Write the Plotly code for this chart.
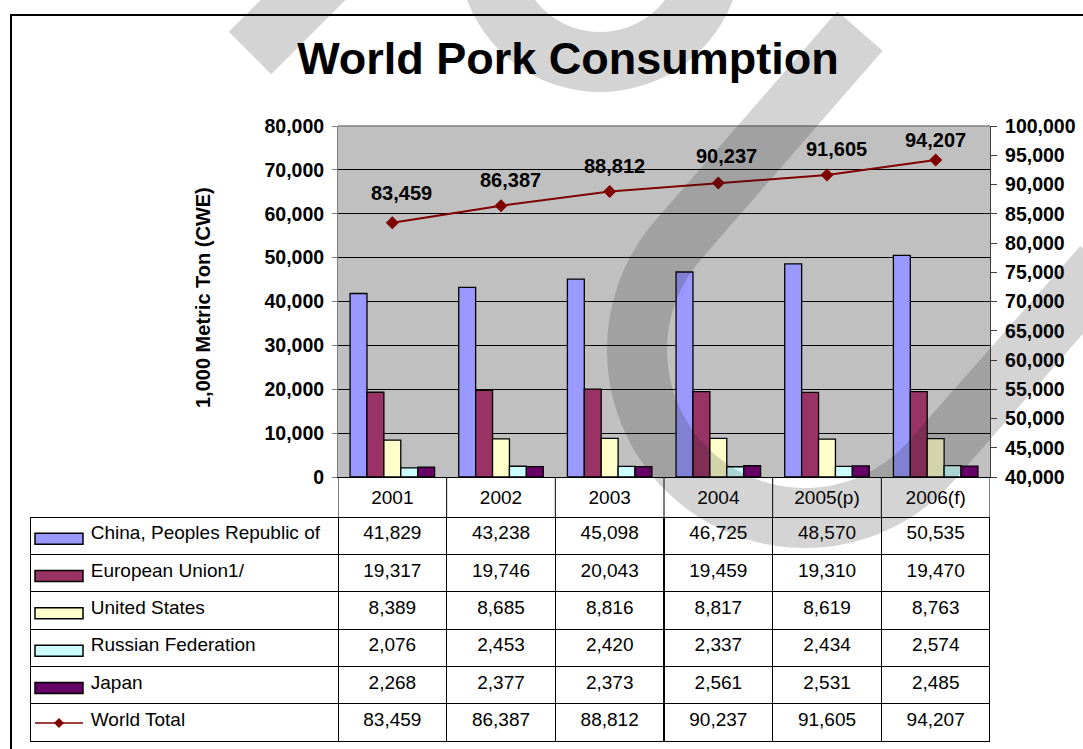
import math
import plotly.graph_objects as go

# ---- data -----------------------------------------------------------------
years = ["2001", "2002", "2003", "2004", "2005(p)", "2006(f)"]
china = [41829, 43238, 45098, 46725, 48570, 50535]
eu = [19317, 19746, 20043, 19459, 19310, 19470]
us = [8389, 8685, 8816, 8817, 8619, 8763]
russia = [2076, 2453, 2420, 2337, 2434, 2574]
japan = [2268, 2377, 2373, 2561, 2531, 2485]
world = [83459, 86387, 88812, 90237, 91605, 94207]

series_names = ["China, Peoples Republic of", "European Union1/", "United States",
                "Russian Federation", "Japan"]
world_name = "World Total"
left_ticks = [0, 10000, 20000, 30000, 40000, 50000, 60000, 70000, 80000]
right_ticks = [40000, 45000, 50000, 55000, 60000, 65000, 70000, 75000, 80000,
               85000, 90000, 95000, 100000]

# ---- styles ---------------------------------------------------------------
bar_colors = ["#9999FF", "#993366", "#FFFFCC", "#CCFFFF", "#660066"]
line_color = "#800000"
FONT = "Liberation Sans, Arial, sans-serif"
label_dx = [9, 9, 5, 8, 9, 0]
label_dy = [30, 26, 25, 27, 26, 20]

W, H = 1083, 749


def px(x):
    return x / W


def py(y):
    return 1 - y / H


fig = go.Figure()

for name, vals, col in zip(series_names, [china, eu, us, russia, japan], bar_colors):
    fig.add_trace(go.Bar(
        x=years, y=vals, name=name, yaxis="y",
        marker=dict(color=col, line=dict(color="black", width=1.3)),
        showlegend=False,
    ))

fig.add_trace(go.Scatter(
    x=years, y=world, name=world_name, yaxis="y2", mode="lines+markers",
    line=dict(color=line_color, width=2),
    marker=dict(symbol="diamond", size=10, color=line_color),
    showlegend=False,
))

# ---- data table under the chart --------------------------------------------
indent = "\u2003\u2003\u2002\u00a0"
all_series = [china, eu, us, russia, japan, world]
row_labels = [indent + n for n in series_names + [world_name]]
header_vals = [row_labels[0]] + [f"{v:,}" for v in china]
cell_cols = [row_labels[1:]] + [[f"{s[j]:,}" for s in all_series[1:]] for j in range(len(years))]

table_top, table_bot = 517, 741
row_h = (table_bot - table_top) / 6
col_w = [308] + [652 / 6] * 6
aligns = ["left"] + ["center"] * 6
clear = "rgba(0,0,0,0)"
fig.add_trace(go.Table(
    domain=dict(x=[px(30), px(990)], y=[py(table_bot + 1), py(table_top)]),
    columnwidth=col_w,
    header=dict(values=header_vals, height=row_h, align=aligns,
                fill=dict(color=clear), line=dict(color="black", width=1),
                font=dict(family=FONT, size=19, color="black")),
    cells=dict(values=cell_cols, height=row_h, align=aligns,
               fill=dict(color=clear), line=dict(color="black", width=1),
               font=dict(family=FONT, size=19, color="black")),
))

shapes = []
annotations = []

# legend keys inside the first table column
for i, col in enumerate(bar_colors):
    cy = table_top + row_h * i + row_h * 0.58
    shapes.append(dict(type="rect", xref="paper", yref="paper",
                       x0=px(35), x1=px(83), y0=py(cy + 5.5), y1=py(cy - 5.5),
                       fillcolor=col, line=dict(color="black", width=1.5)))
cy = table_top + row_h * 5 + row_h * 0.52
shapes.append(dict(type="line", xref="paper", yref="paper",
                   x0=px(35), x1=px(83), y0=py(cy), y1=py(cy),
                   line=dict(color=line_color, width=1.5)))
d = 5
shapes.append(dict(type="path", xref="paper", yref="paper",
                   path=f"M{px(59 - d)},{py(cy)} L{px(59)},{py(cy - d)} L{px(59 + d)},{py(cy)} L{px(59)},{py(cy + d)} Z",
                   fillcolor=line_color, line=dict(color=line_color, width=0)))

# column dividers in the category row
for i in range(len(years) + 1):
    shapes.append(dict(type="line", xref="x", yref="paper", x0=i - 0.5, x1=i - 0.5,
                       y0=py(477), y1=py(table_top), line=dict(color="black", width=1)))

# plot-area top edge
shapes.append(dict(type="line", xref="x domain", yref="y domain", x0=0, x1=1, y0=1, y1=1,
                   line=dict(color="#808080", width=1.5)))

# outer frame
shapes.append(dict(type="rect", xref="paper", yref="paper",
                   x0=px(11), y0=py(15), x1=1.05, y1=-0.05,
                   line=dict(color="black", width=2), fillcolor=clear))


# translucent page mark
def to_path(points):
    return "M" + " L".join(f"{px(x):.5f},{py(y):.5f}" for x, y in points)


mark = dict(color="rgba(25,25,25,0.19)", width=60)

pts = [(250, 53), (360, -57)]
shapes.append(dict(type="path", xref="paper", yref="paper", layer="above",
                   path=to_path(pts), line=mark))

cx, cy0, r = 600, -50, 112
pts = [(cx + r * math.cos(math.radians(a)), cy0 + r * math.sin(math.radians(a)))
       for a in range(180, -1, -4)]
shapes.append(dict(type="path", xref="paper", yref="paper", layer="above",
                   path=to_path(pts), line=mark))

cx, cy0, r = 805, 350, 168
start = (860, 31)
a1, a2 = 221.0, 41.3
pts = [start]
n = 60
for k in range(n + 1):
    a = math.radians(a1 + (a2 - a1) * k / n)
    pts.append((cx + r * math.cos(a), cy0 + r * math.sin(a)))
ex, ey = pts[-1]
pts.append((ex + 0.66 * 260, ey - 0.75 * 260))
shapes.append(dict(type="path", xref="paper", yref="paper", layer="above",
                   path=to_path(pts), line=mark))

# value labels above the world-total line
for j, v in enumerate(world):
    annotations.append(dict(x=j, y=v, xref="x", yref="y2", text=f"{v:,}",
                            showarrow=False, xshift=label_dx[j], yshift=label_dy[j],
                            font=dict(family=FONT, size=20, color="black", weight="bold")))

# left axis title
annotations.append(dict(x=px(203), y=py(297), xref="paper", yref="paper",
                        xanchor="center", yanchor="middle",
                        text="1,000 Metric Ton (CWE)", textangle=-90, showarrow=False,
                        font=dict(family=FONT, size=20, color="black", weight="bold")))

fig.update_layout(
    template="none",
    width=W, height=H, autosize=False,
    margin=dict(l=0, r=0, t=0, b=0, pad=0, autoexpand=False),
    paper_bgcolor="white", plot_bgcolor="#C0C0C0",
    barmode="group", bargap=0.222, bargroupgap=0,
    font=dict(family=FONT, color="black"),
    title=dict(text="World Pork Consumption", x=px(568), xanchor="center",
               y=py(58), yanchor="middle",
               font=dict(family=FONT, size=45, color="black", weight="bold")),
    xaxis=dict(domain=[px(338), px(990)], type="category", range=[-0.5, 5.5],
               showline=True, linecolor="black", linewidth=1, ticks="",
               showgrid=False, tickfont=dict(family=FONT, size=19, color="black"),
               ticklabelstandoff=3, automargin=False),
    yaxis=dict(domain=[py(477), py(126)], range=[0, 80000], tickvals=left_ticks,
               tickformat=",", ticks="outside", ticklen=5, tickcolor="#808080",
               showgrid=True, gridcolor="black", gridwidth=1, zeroline=False,
               showline=True, linecolor="#808080", linewidth=1, automargin=False,
               ticklabelstandoff=4,
               tickfont=dict(family=FONT, size=19.5, color="black", weight="bold")),
    yaxis2=dict(overlaying="y", side="right", range=[40000, 100000], tickvals=right_ticks,
                tickformat=",", ticks="outside", ticklen=6, tickcolor="#404040",
                showgrid=False, zeroline=False, showline=True, linecolor="#404040",
                linewidth=1.3, automargin=False, ticklabelstandoff=4,
                tickfont=dict(family=FONT, size=19.5, color="black", weight="bold")),
    shapes=shapes,
    annotations=annotations,
)

fig.write_html("out.html")
